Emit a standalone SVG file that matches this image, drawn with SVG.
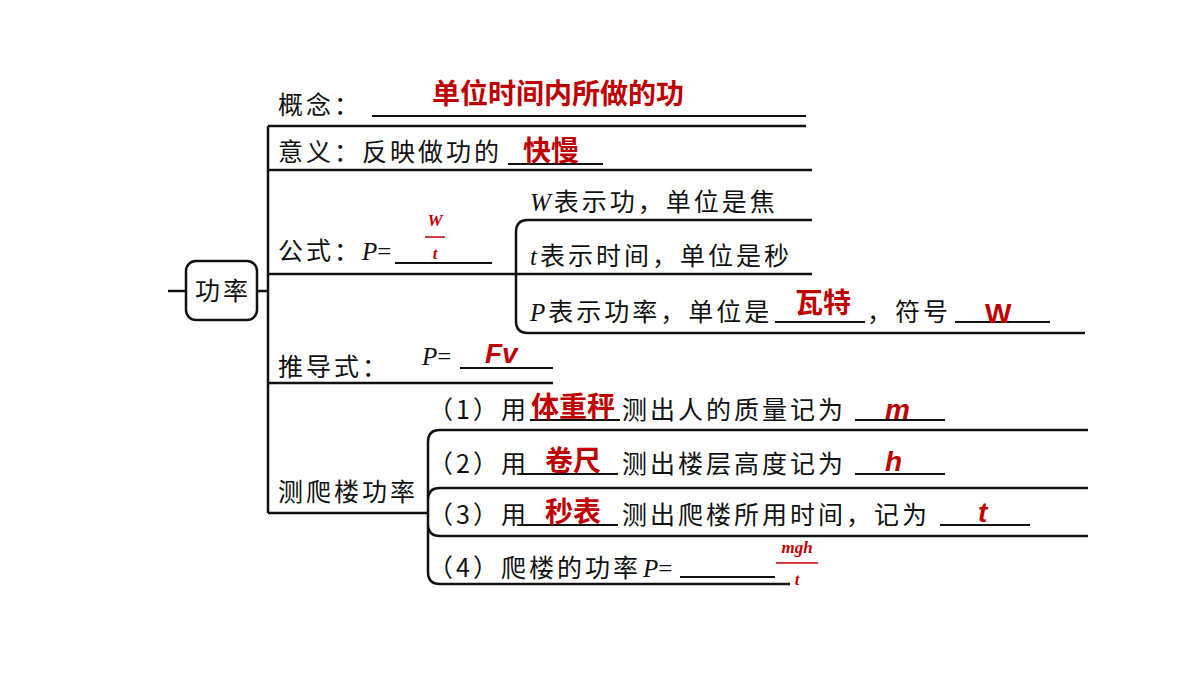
<svg xmlns="http://www.w3.org/2000/svg" width="1200" height="676" viewBox="0 0 1200 676">
<style>
.l{stroke:#111;stroke-width:2.5;fill:none}
.u{stroke:#111;stroke-width:1.8;fill:none}
.t{font-family:"Noto Sans CJK SC",sans-serif;font-size:25px;letter-spacing:3px;fill:#111}
.m{font-family:"Liberation Serif","Noto Sans CJK SC",serif;font-size:25px;fill:#111}
.r{font-family:"Liberation Sans","Noto Sans CJK SC",sans-serif;font-size:28px;font-weight:bold;fill:#c00000}
.f{font-family:"Liberation Serif",serif;font-style:italic;font-weight:bold;font-size:17px;fill:#c00000}
</style>
<rect width="1200" height="676" fill="#fff"/>
<g id="connectors">
<path class="l" d="M168 291H186M257 291H268M268 126V513M268 126H806M268 170H812M268 274H516M268 383H553M268 513H428"/>
<path class="l" d="M812 220H528Q516 220 516 232V321Q516 333 528 333H1085M516 274H812"/>
<path class="l" d="M1088 430H440Q428 430 428 442V572Q428 584 440 584H790M1088 488H440Q428 488 428 500V524Q428 536 440 536H1088"/>
<path class="u" d="M372 116H806M508 164H603M395 263H492M775 322H865M955 322H1050M460 368H553M530 420H620M855 420H945M520 474H618M855 474H945M520 525H618M940 525H1030M680 577H775"/>
</g>
<g id="root"><rect x="186" y="261" width="71" height="59" rx="10" fill="#fff" stroke="#111" stroke-width="2.5"/><text class="t" x="223" y="300" text-anchor="middle">功率</text></g>
<g id="n1"><text class="t" x="278" y="114">概念：</text><text class="r" x="432" y="104">单位时间内所做的功</text></g>
<g id="n2"><text class="t" x="278" y="161">意义：反映做功的</text><text class="r" x="523" y="161">快慢</text></g>
<g id="n3"><text class="t" x="278" y="260">公式：</text><text class="m" x="362" y="260"><tspan font-style="italic">P</tspan>=</text>
<text class="f" x="435" y="226" text-anchor="middle">W</text><line x1="425" y1="237" x2="445" y2="237" stroke="#c00000" stroke-width="1.5"/><text class="f" x="435" y="259" text-anchor="middle">t</text></g>
<g id="n3a"><text class="t" x="530" y="211"><tspan font-family="Liberation Serif" font-style="italic">W</tspan>表示功，单位是焦</text></g>
<g id="n3b"><text class="t" x="530" y="265"><tspan font-family="Liberation Serif" font-style="italic">t</tspan>表示时间，单位是秒</text></g>
<g id="n3c"><text class="t" x="530" y="321"><tspan font-family="Liberation Serif" font-style="italic">P</tspan>表示功率，单位是</text><text class="r" x="795" y="313">瓦特</text><text class="t" x="867" y="321">，符号</text><text class="r" x="985" y="323">W</text></g>
<g id="n4"><text class="t" x="278" y="376">推导式：</text><text class="m" x="422" y="365"><tspan font-style="italic">P</tspan>=</text><text class="r" x="485" y="363" font-style="italic">Fv</text></g>
<g id="n5"><text class="t" x="278" y="501">测爬楼功率</text></g>
<g id="s1"><text class="t" x="428" y="419">（1）用</text><text class="r" x="531" y="417">体重秤</text><text class="t" x="622" y="419">测出人的质量记为</text><text class="r" x="885" y="419" font-style="italic">m</text></g>
<g id="s2"><text class="t" x="428" y="473">（2）用</text><text class="r" x="545" y="471">卷尺</text><text class="t" x="622" y="473">测出楼层高度记为</text><text class="r" x="885" y="471" font-style="italic">h</text></g>
<g id="s3"><text class="t" x="428" y="524">（3）用</text><text class="r" x="545" y="522">秒表</text><text class="t" x="622" y="524">测出爬楼所用时间，记为</text><text class="r" x="978" y="522" font-style="italic">t</text></g>
<g id="s4"><text class="t" x="428" y="577">（4）爬楼的功率</text><text class="m" x="643" y="577"><tspan font-style="italic">P</tspan>=</text>
<text class="f" x="797" y="553" text-anchor="middle">mgh</text><line x1="776" y1="563" x2="818" y2="563" stroke="#c00000" stroke-width="1.5"/><text class="f" x="797" y="585" text-anchor="middle">t</text></g>
</svg>
